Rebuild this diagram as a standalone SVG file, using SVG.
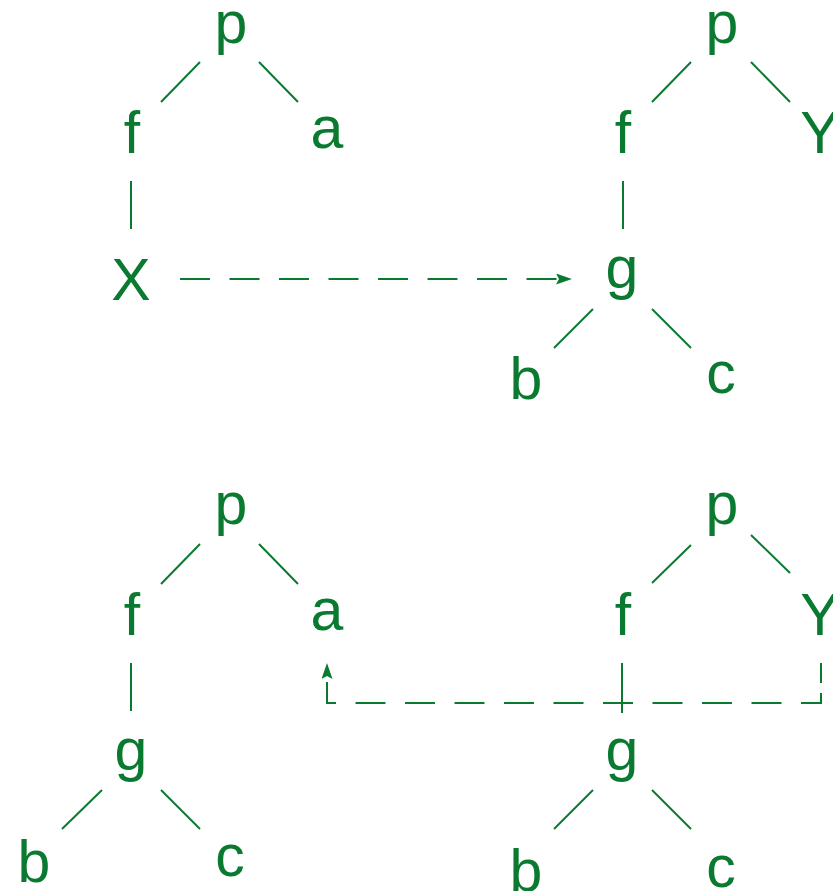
<svg xmlns="http://www.w3.org/2000/svg" width="833" height="891" viewBox="0 0 833 891">
<style>
  text { font-family: "Liberation Sans", Arial, sans-serif; font-size: 59px; fill: #0a7a30; text-anchor: middle; }
  .e { stroke: #0a7a30; stroke-width: 2; fill: none; }
  .d { stroke: #0a7a30; stroke-width: 2; fill: none; stroke-dasharray: 30 19.5; }
</style>
<defs>
  <marker id="ah" markerUnits="userSpaceOnUse" markerWidth="17" markerHeight="12" refX="16" refY="5.5" orient="auto">
    <path d="M0,0 L16,5.5 L0,11 L3,5.5 z" fill="#0a7a30"/>
  </marker>
</defs>
<rect width="833" height="891" fill="#ffffff"/>
<g id="connectors">
  <line class="e" x1="200" y1="62" x2="161" y2="102"/>
  <line class="e" x1="259" y1="62" x2="298" y2="102"/>
  <line class="e" x1="131" y1="181" x2="131" y2="229"/>
  <line class="e" x1="691" y1="62" x2="652" y2="102"/>
  <line class="e" x1="751" y1="62" x2="790" y2="102"/>
  <line class="e" x1="623" y1="181" x2="623" y2="229"/>
  <line class="e" x1="593" y1="309" x2="554" y2="348"/>
  <line class="e" x1="652" y1="309" x2="691" y2="348"/>
  <path class="d" d="M180,279 H572" marker-end="url(#ah)"/>
  <line class="e" x1="200" y1="544" x2="161" y2="584"/>
  <line class="e" x1="259" y1="544" x2="298" y2="584"/>
  <line class="e" x1="131" y1="663" x2="131" y2="711"/>
  <line class="e" x1="102" y1="790" x2="62" y2="829"/>
  <line class="e" x1="161" y1="790" x2="200" y2="829"/>
  <line class="e" x1="691" y1="545" x2="652" y2="583"/>
  <line class="e" x1="751" y1="535" x2="790" y2="573"/>
  <line class="e" x1="622" y1="663" x2="622" y2="713"/>
  <line class="e" x1="593" y1="790" x2="554" y2="829"/>
  <line class="e" x1="652" y1="790" x2="691" y2="829"/>
  <line class="e" x1="821" y1="663" x2="821" y2="683"/>
  <path class="d" d="M821,693 V703 H327 V663" marker-end="url(#ah)"/>
</g>
<g id="tl-p"><text x="231" y="43">p</text></g>
<g id="tl-f"><text x="132" y="153">f</text></g>
<g id="tl-a"><text x="327" y="148">a</text></g>
<g id="tl-X"><text x="131" y="300">X</text></g>
<g id="tr-p"><text x="722" y="43">p</text></g>
<g id="tr-f"><text x="623" y="153">f</text></g>
<g id="tr-Y"><text x="820" y="153">Y</text></g>
<g id="tr-g"><text x="622" y="288">g</text></g>
<g id="tr-b"><text x="526" y="399">b</text></g>
<g id="tr-c"><text x="721" y="393">c</text></g>
<g id="bl-p"><text x="231" y="524">p</text></g>
<g id="bl-f"><text x="132" y="635">f</text></g>
<g id="bl-a"><text x="327" y="630">a</text></g>
<g id="bl-g"><text x="131" y="770">g</text></g>
<g id="bl-b"><text x="34" y="882">b</text></g>
<g id="bl-c"><text x="230" y="876">c</text></g>
<g id="br-p"><text x="722" y="524">p</text></g>
<g id="br-f"><text x="623" y="635">f</text></g>
<g id="br-Y"><text x="820" y="635">Y</text></g>
<g id="br-g"><text x="622" y="770">g</text></g>
<g id="br-b"><text x="526" y="891">b</text></g>
<g id="br-c"><text x="721" y="887">c</text></g>
</svg>
